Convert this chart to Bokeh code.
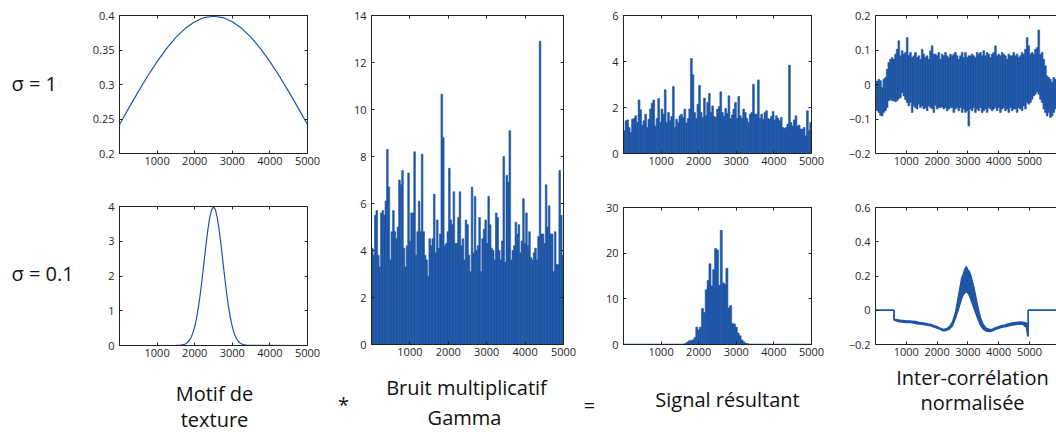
from bokeh.plotting import figure
from bokeh.layouts import row, column
from bokeh.models import Range1d, FixedTicker, LinearAxis
from bokeh.embed import file_html
from bokeh.resources import INLINE
from bokeh.core.properties import value

BLUE = "#1f55a5"
FONT = "Open Sans"
INK = "#222222"

n_samples = 5000
x_ticks = [1000, 2000, 3000, 4000, 5000]

# ---- Motif de texture, sigma = 1 ----
x1a = [i * 250 for i in range(21)]
y1a = [0.2420, 0.2661, 0.2897, 0.3123, 0.3332, 0.3521, 0.3683, 0.3814, 0.3910, 0.3970, 0.3989,
       0.3970, 0.3910, 0.3814, 0.3683, 0.3521, 0.3332, 0.3123, 0.2897, 0.2661, 0.2420]
yt1a = [0.2, 0.25, 0.3, 0.35, 0.4]
yl1a = ["0.2", "0.25", "0.3", "0.35", "0.4"]

# ---- Motif de texture, sigma = 0.1 ----
x1b = [0, 1500, 1600, 1700,
       1750, 1800, 1850, 1900, 1950, 2000, 2050, 2100, 2150, 2200, 2250, 2300, 2350, 2400, 2450, 2500,
       2550, 2600, 2650, 2700, 2750, 2800, 2850, 2900, 2950, 3000, 3050, 3100, 3150, 3200, 3250,
       3300, 3400, 3500, 5000]
y1b = [0, 0.0013, 0.006, 0.024,
       0.044, 0.079, 0.136, 0.224, 0.355, 0.540, 0.790, 1.109, 1.497, 1.942, 2.420, 2.897, 3.332, 3.683, 3.910, 3.989,
       3.910, 3.683, 3.332, 2.897, 2.420, 1.942, 1.497, 1.109, 0.790, 0.540, 0.355, 0.224, 0.136, 0.079, 0.044,
       0.024, 0.006, 0.0013, 0]
yt1b = [0, 1, 2, 3, 4]
yl1b = ["0", "1", "2", "3", "4"]

# ---- Bruit multiplicatif Gamma (peak per small bin) ----
g2 = [4.1, 3.8, 5.5, 5.7, 3.8, 3.3, 5.6, 5.7, 5.5, 6.1,
      8.3, 6.7, 3.6, 4.8, 5.7, 4.8, 4.5, 5.0, 7.0, 6.8,
      7.4, 4.1, 3.3, 4.2, 7.3, 4.4, 5.6, 5.6, 8.2, 3.8,
      4.8, 6.1, 4.8, 8.1, 4.8, 3.8, 3.6, 2.9, 4.5, 4.2,
      4.5, 6.4, 3.9, 5.3, 4.1, 4.7, 10.65, 8.8, 4.2, 4.3,
      4.8, 7.5, 5.3, 5.1, 6.5, 4.3, 4.3, 5.4, 6.5, 4.2,
      4.5, 3.6, 5.3, 5.1, 3.8, 3.1, 6.7, 3.9, 6.3, 4.0,
      4.2, 5.4, 3.1, 4.5, 4.9, 5.3, 4.3, 6.3, 5.1, 4.1,
      4.0, 3.6, 5.6, 5.4, 4.0, 3.6, 4.4, 8.0, 3.5, 7.2,
      6.9, 9.1, 3.6, 4.0, 4.2, 5.2, 4.7, 5.1, 3.9, 4.4,
      6.2, 4.3, 5.6, 4.2, 4.8, 3.7, 3.6, 3.9, 4.1, 3.6,
      4.6, 12.9, 4.7, 4.7, 4.3, 6.8, 5.0, 5.9, 4.7, 4.7,
      3.1, 4.8, 3.4, 3.4, 7.4, 5.5, 3.8]
yt2 = [0, 2, 4, 6, 8, 10, 12, 14]
yl2 = ["0", "2", "4", "6", "8", "10", "12", "14"]

# ---- Signal resultant, sigma = 1 ----
s3a = [0.99, 1.42, 1.46, 1.13, 0.91, 1.49, 1.52, 1.64, 1.35, 2.33,
       1.9, 1.23, 1.42, 1.71, 1.13, 1.49, 1.93, 2.19, 2.33, 1.2,
       1.52, 2.39, 1.35, 1.93, 1.71, 2.77, 1.35, 1.78, 1.42, 1.61,
       2.91, 1.13, 1.49, 1.35, 1.64, 1.71, 1.57, 1.93, 1.32, 1.52,
       1.93, 4.13, 3.42, 1.78, 1.52, 2.14, 2.96, 1.78, 1.57, 2.41,
       1.64, 2.22, 2.61, 1.78, 2.07, 1.61, 1.57, 1.93, 2.04, 2.68,
       1.78, 1.61, 1.96, 1.75, 2.51, 1.52, 1.67, 1.93, 2.22, 1.52,
       2.48, 1.64, 1.52, 1.93, 1.78, 1.52, 1.35, 1.71, 1.78, 3.01,
       1.71, 1.71, 3.2, 1.52, 1.71, 1.49, 1.78, 1.86, 1.52, 1.49,
       1.61, 1.83, 1.46, 1.64, 1.52, 1.42, 1.57, 1.13, 1.09, 1.13,
       1.28, 3.84, 1.35, 1.2, 1.46, 1.64, 1.2, 1.23, 1.06, 1.06,
       1.13, 0.77, 1.86, 0.99, 1.35]
yt3a = [0, 2, 4, 6]
yl3a = ["0", "2", "4", "6"]

# ---- Signal resultant, sigma = 0.1 ----
x3b = [1650, 1700, 1750, 1800, 1850, 1900, 1950, 2000, 2050, 2100, 2150, 2200, 2250, 2300, 2350,
       2400, 2450, 2500, 2550, 2600, 2650, 2700, 2750, 2800, 2850, 2900, 2950, 3000, 3050, 3100,
       3150, 3200, 3250, 3300, 3350]
s3b = [0.2, 0.5, 0.8, 0.9, 1.0, 1.5, 3.8, 3.2, 3.8, 7.9, 7.0, 12.0, 14.0, 17.7, 12.8,
       16.4, 21.0, 20.7, 13.0, 25.0, 13.5, 13.2, 16.7, 8.0, 8.5, 4.6, 4.5, 3.8, 2.5, 1.9,
       1.0, 0.6, 0.3, 0.15, 0.05]
yt3b = [0, 10, 20, 30]
yl3b = ["0", "10", "20", "30"]

# ---- Inter-correlation normalisee, sigma = 1 (band min / max per bin) ----
hi4a = [0.006, 0.010, 0.015, 0.011, -0.009, 0.015, 0.020, 0.044, 0.064, 0.073,
        0.078, 0.073, 0.088, 0.102, 0.127, 0.083, 0.098, 0.088, 0.093, 0.136,
        0.085, 0.093, 0.078, 0.083, 0.093, 0.078, 0.083, 0.073, 0.102, 0.088,
        0.078, 0.083, 0.073, 0.098, 0.112, 0.088, 0.088, 0.083, 0.093, 0.073,
        0.088, 0.083, 0.093, 0.083, 0.078, 0.088, 0.083, 0.088, 0.093, 0.083,
        0.073, 0.083, 0.093, 0.078, 0.093, 0.078, 0.083, 0.083, 0.088, 0.083,
        0.078, 0.093, 0.088, 0.093, 0.083, 0.098, 0.083, 0.093, 0.088, 0.078,
        0.088, 0.093, 0.112, 0.083, 0.088, 0.083, 0.093, 0.088, 0.083, 0.073,
        0.088, 0.083, 0.083, 0.093, 0.083, 0.088, 0.078, 0.083, 0.093, 0.088,
        0.102, 0.136, 0.112, 0.088, 0.093, 0.088, 0.102, 0.107, 0.158, 0.088,
        0.093, 0.073, 0.054, 0.025, 0.020, 0.015, 0.006, 0.020, 0.015]
lo4a = [-0.071, -0.075, -0.081, -0.089, -0.091, -0.081, -0.076, -0.067, -0.047, -0.044,
        -0.047, -0.047, -0.050, -0.047, -0.041, -0.038, -0.023, -0.033, -0.044, -0.052,
        -0.062, -0.052, -0.081, -0.062, -0.067, -0.071, -0.057, -0.067, -0.062, -0.071,
        -0.067, -0.076, -0.062, -0.067, -0.070, -0.081, -0.060, -0.071, -0.067, -0.067,
        -0.065, -0.071, -0.067, -0.076, -0.071, -0.067, -0.067, -0.081, -0.071, -0.067,
        -0.076, -0.067, -0.081, -0.071, -0.081, -0.076, -0.120, -0.071, -0.076, -0.067,
        -0.081, -0.071, -0.076, -0.067, -0.081, -0.076, -0.071, -0.081, -0.067, -0.071,
        -0.076, -0.071, -0.067, -0.076, -0.067, -0.081, -0.071, -0.067, -0.076, -0.071,
        -0.081, -0.067, -0.076, -0.071, -0.071, -0.081, -0.067, -0.071, -0.076, -0.062,
        -0.071, -0.052, -0.057, -0.052, -0.043, -0.033, -0.028, -0.021, -0.028, -0.043,
        -0.052, -0.071, -0.081, -0.091, -0.081, -0.096, -0.091, -0.081, -0.071]
bin4a = 54.1
yt4a = [-0.2, -0.1, 0, 0.1, 0.2]
yl4a = ["\u22120.2", "\u22120.1", "0", "0.1", "0.2"]

# ---- Inter-correlation normalisee, sigma = 0.1 ----
x4b = [0, 600, 600, 700, 800, 900, 1000, 1100, 1200, 1300, 1400, 1500, 1600, 1700, 1800, 1900,
       2000, 2100, 2200, 2300, 2400, 2500, 2600, 2700, 2800, 2850, 2900, 2950, 3000, 3050, 3100,
       3200, 3300, 3400, 3500, 3600, 3700, 3800, 3900, 4000, 4100, 4200, 4300, 4400, 4500, 4600,
       4700, 4800, 4900, 4940, 4960, 4960, 5900]
lo4b = [0, 0, -0.058, -0.064, -0.068, -0.070, -0.072, -0.071, -0.074, -0.077, -0.080, -0.082, -0.085,
        -0.088, -0.091, -0.098, -0.104, -0.112, -0.120, -0.118, -0.110, -0.090, -0.045, 0.010, 0.070,
        0.090, 0.100, 0.110, 0.100, 0.085, 0.060,
        0.010, -0.040, -0.085, -0.110, -0.122, -0.125, -0.120, -0.112, -0.105, -0.100, -0.097, -0.092,
        -0.088, -0.085, -0.082, -0.080, -0.084, -0.100, -0.150, -0.150, 0, 0]
hi4b = [0, 0, -0.052, -0.055, -0.058, -0.060, -0.062, -0.062, -0.064, -0.066, -0.070, -0.072, -0.076,
        -0.080, -0.082, -0.090, -0.096, -0.104, -0.112, -0.108, -0.095, -0.068, -0.010, 0.090, 0.190,
        0.210, 0.240, 0.255, 0.235, 0.225, 0.200,
        0.130, 0.040, -0.040, -0.085, -0.105, -0.112, -0.110, -0.102, -0.096, -0.090, -0.086, -0.080,
        -0.075, -0.072, -0.070, -0.068, -0.070, -0.075, -0.080, -0.080, 0, 0]
yt4b = [-0.2, 0, 0.2, 0.4, 0.6]
yl4b = ["\u22120.2", "0", "0.2", "0.4", "0.6"]

sigma_labels = ["\u03c3 = 1", "\u03c3 = 0.1"]
bottom_labels = ["Motif de", "texture", "*", "Bruit multiplicatif", "Gamma", "=",
                 "Signal r\u00e9sultant", "Inter-corr\u00e9lation", "normalis\u00e9e"]


def style_axis(ax, standoff):
    ax.axis_line_color = INK
    ax.major_tick_line_color = INK
    ax.major_tick_in = 3
    ax.major_tick_out = 0
    ax.minor_tick_line_color = None
    ax.major_label_text_font = FONT
    ax.major_label_text_font_size = "11px"
    ax.major_label_text_color = "#262626"
    ax.major_label_standoff = standoff


def blank_axis(ticks):
    ax = LinearAxis(ticker=FixedTicker(ticks=ticks))
    style_axis(ax, 0)
    ax.major_label_text_font_size = "0px"
    ax.major_label_text_color = None
    return ax


def make_fig(w, h, bl, br, bt, bb, xr, yr, yticks, ylabels, right_box=True):
    p = figure(width=w, height=h, x_range=Range1d(*xr), y_range=Range1d(*yr),
               output_backend="svg", toolbar_location=None,
               min_border_left=bl, min_border_right=br, min_border_top=bt, min_border_bottom=bb)
    p.grid.visible = False
    p.outline_line_color = INK if right_box else None
    p.xaxis.ticker = FixedTicker(ticks=x_ticks)
    p.yaxis.ticker = FixedTicker(ticks=yticks)
    p.yaxis.major_label_overrides = {t: s for t, s in zip(yticks, ylabels)}
    style_axis(p.xaxis[0], 3)
    style_axis(p.yaxis[0], 5)
    p.add_layout(blank_axis(x_ticks), "above")
    if right_box:
        p.add_layout(blank_axis(yticks), "right")
    return p


# column 1
p1a = make_fig(250, 188, 39, 23, 15, 35, (0, n_samples), (0.2, 0.4), yt1a, yl1a)
p1a.line(x1a, y1a, line_color=BLUE, line_width=1.2)
p1b = make_fig(250, 175, 39, 23, 18, 18, (0, n_samples), (0, 4), yt1b, yl1b)
p1b.line(x1b, y1b, line_color=BLUE, line_width=1.2)

# column 2
p2 = make_fig(260, 363, 41, 27, 15, 19, (0, n_samples), (0, 14), yt2, yl2)
step2 = n_samples / len(g2)
x2 = [(i + 0.5) * step2 for i in range(len(g2))]
p2.vbar(x=x2, top=g2, bottom=0, width=step2 * 1.1, fill_color=BLUE,
        line_color=BLUE, line_width=0.6)

# column 3
p3a = make_fig(250, 188, 33, 29, 15, 35, (0, n_samples), (0, 6), yt3a, yl3a)
step3 = n_samples / len(s3a)
x3a = [(i + 0.5) * step3 for i in range(len(s3a))]
p3a.vbar(x=x3a, top=s3a, bottom=0, width=step3 * 1.1, fill_color=BLUE,
         line_color=BLUE, line_width=0.6)
p3b = make_fig(250, 175, 33, 29, 19, 19, (0, n_samples), (0, 30), yt3b, yl3b)
p3b.line([0, n_samples], [0, 0], line_color=BLUE, line_width=1.5)
p3b.vbar(x=x3b, top=s3b, bottom=0, width=55, fill_color=BLUE, line_color=BLUE, line_width=0.6)

# column 4 (cut at the right edge of the page)
x4_end = 5877
p4a = make_fig(216, 188, 35, 0, 15, 35, (0, x4_end), (-0.2, 0.2), yt4a, yl4a, right_box=False)
x4a = [i * bin4a for i in range(len(hi4a))]
p4a.vbar(x=x4a, top=hi4a, bottom=lo4a, width=bin4a * 1.05, fill_color=BLUE,
         line_color=BLUE, line_width=0.6)
p4b = make_fig(216, 175, 35, 0, 19, 19, (0, x4_end), (-0.2, 0.6), yt4b, yl4b, right_box=False)
p4b.varea(x=x4b, y1=lo4b, y2=hi4b, fill_color=BLUE)
p4b.line(x4b, lo4b, line_color=BLUE, line_width=1.4)
p4b.line(x4b, hi4b, line_color=BLUE, line_width=1.4)

# sigma labels column (frame spans the same rows as the middle panel)
sig = figure(width=80, height=363, x_range=Range1d(0, 80), y_range=Range1d(344, 15),
             x_axis_type=None, y_axis_type=None, output_backend="svg", toolbar_location=None,
             min_border_left=0, min_border_right=0, min_border_top=15, min_border_bottom=19)
sig.grid.visible = False
sig.outline_line_color = None
sig.text(x=[11, 11], y=[83, 273], text=sigma_labels, text_font=value(FONT),
         text_font_size="20px", text_baseline="middle", text_align="left", text_color="#111111")

# bottom captions
lab = figure(width=1056, height=69, x_range=Range1d(0, 1056), y_range=Range1d(432, 363),
             x_axis_type=None, y_axis_type=None, output_backend="svg", toolbar_location=None,
             min_border=0)
lab.grid.visible = False
lab.outline_line_color = None
lab.text(x=[214, 214, 343, 466, 464, 589, 727, 972, 972],
         y=[393, 419, 404, 387, 417, 405, 399, 377, 402],
         text=bottom_labels, text_font=value(FONT), text_font_size="20px",
         text_baseline="middle", text_align="center", text_color="#111111")

top = row(sig, column(p1a, p1b), p2, column(p3a, p3b), column(p4a, p4b))
root = column(top, lab)

open("out.html", "w").write(file_html(root, INLINE))
